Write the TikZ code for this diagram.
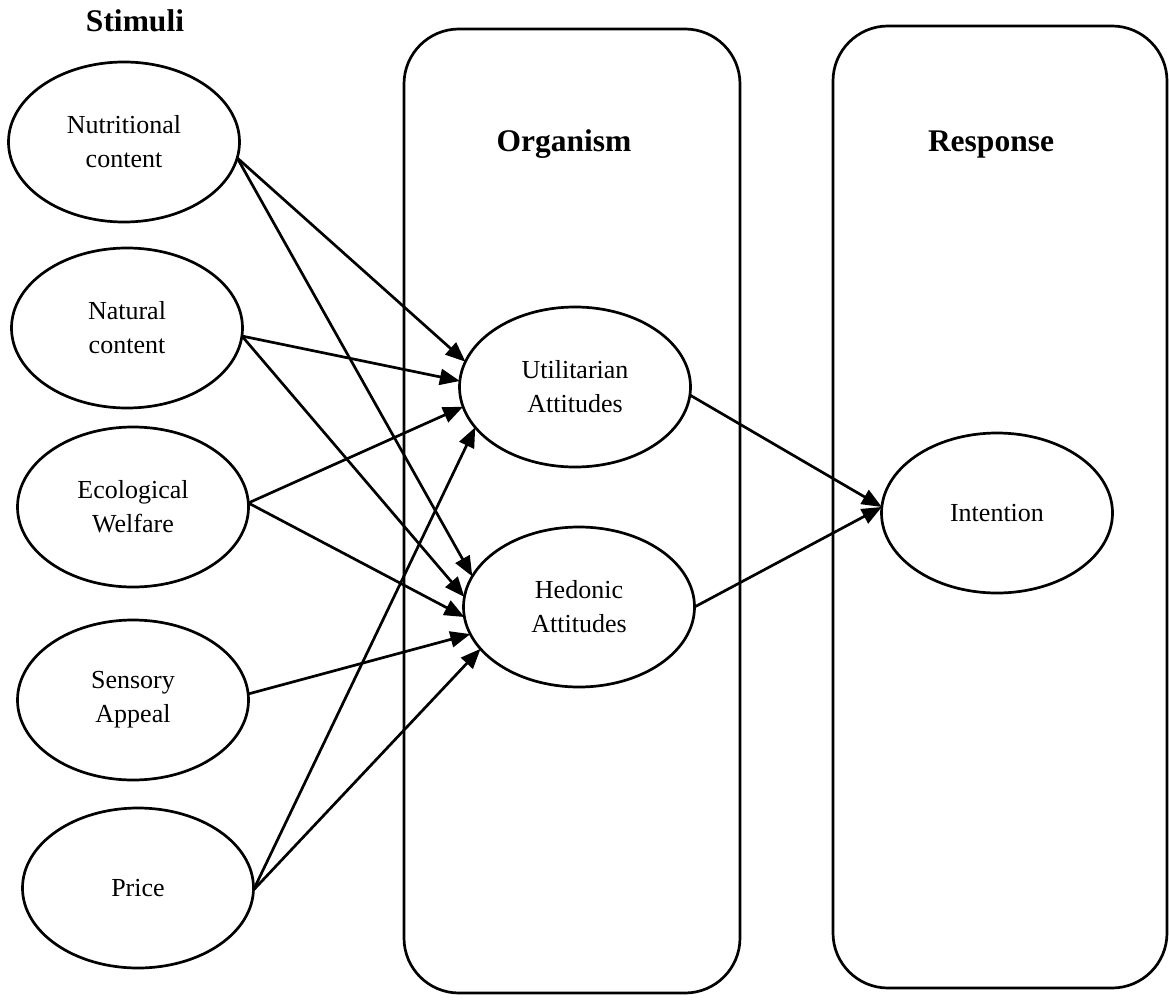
\documentclass[tikz,border=0pt]{standalone}
\usepackage{fontspec}
\setmainfont{Liberation Serif}
\usetikzlibrary{arrows.meta,shapes.geometric}
\begin{document}
\begin{tikzpicture}[x=1pt,y=-1pt,
  line width=2.7pt,
  oval/.style={ellipse,draw,minimum width=231pt,minimum height=160pt,inner sep=0pt,outer sep=0pt,
    align=center,font=\fontsize{26}{34}\selectfont},
  panel/.style={draw,rectangle,rounded corners=55pt,inner sep=0pt},
  head/.style={font=\fontsize{31.5}{36}\selectfont\bfseries,anchor=base},
  link/.style={-{Triangle[length=20pt,width=16pt]}}]
\useasboundingbox (0,0) rectangle (1169,1003);
% panels
\node[panel,minimum width=336pt,minimum height=964pt] (org) at (572,511) {};
\node[panel,minimum width=334pt,minimum height=962pt] (res) at (1000,507) {};
% headings
\node[head] (hs) at (135,32) {Stimuli};
\node[head] (ho) at (564,152) {Organism};
\node[head] (hr) at (991,152) {Response};
% stimuli
\node[oval] (n1) at (124,142) {Nutritional\\content};
\node[oval] (n2) at (127,328) {Natural\\content};
\node[oval] (n3) at (133,507) {Ecological\\Welfare};
\node[oval] (n4) at (133,700) {Sensory\\Appeal};
\node[oval] (n5) at (138,888) {Price};
% organism
\node[oval] (u) at (575,387) {Utilitarian\\Attitudes};
\node[oval] (h) at (579,607) {Hedonic\\Attitudes};
% response
\node[oval] (i) at (997,513) {Intention};
% connectors
\draw[link] (n1.-8) -- (u.167.4);
\draw[link] (n1.-8) -- (h.164.3);
\draw[link] (n2.-4) -- (u.177.5);
\draw[link] (n2.-4) -- (h.175.6);
\draw[link] (n3.2) -- (u.-170.4);
\draw[link] (n3.2) -- (h.-175);
\draw[link] (n4.3) -- (h.-166.5);
\draw[link] (n5.-1) -- (u.-158.5);
\draw[link] (n5.-1) -- (h.-157.7);
\draw[link] (u.-4) -- (i.177);
\draw[link] (h.0) -- (i.177);
\end{tikzpicture}
\end{document}
